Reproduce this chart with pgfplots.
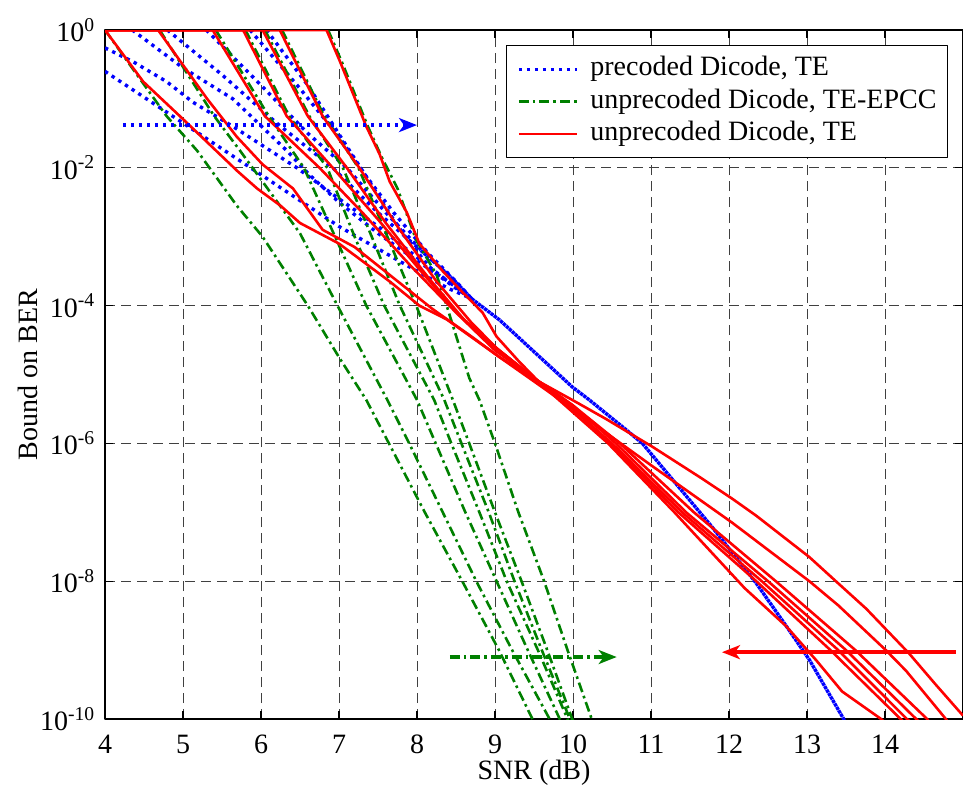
\documentclass[border=0pt]{standalone}
\usepackage{fontspec}
\setmainfont{Liberation Serif}
\usepackage{pgfplots}
\pgfplotsset{compat=1.18}
\usetikzlibrary{arrows.meta}

\definecolor{mblue}{rgb}{0,0,1}
\definecolor{mgreen}{rgb}{0,0.5,0}
\definecolor{mred}{rgb}{1,0,0}

\pgfplotsset{
  bl/.style={color=mblue, line width=1.7pt, dash pattern=on 1.7pt off 2.3pt},
  gr/.style={color=mgreen, line width=1.3pt, dash pattern=on 5pt off 2pt on 1.3pt off 2pt},
  rd/.style={color=mred, line width=1.3pt},
}

\begin{document}
\fontsize{14}{16.8}\selectfont
\begin{tikzpicture}
\begin{axis}[
  scale only axis, width=429pt, height=344.5pt,
  xmin=4, xmax=15, ymode=log, ymin=1e-10, ymax=1,
  xtick={4,5,...,14},
  ytick={1e-10,1e-8,1e-6,1e-4,1e-2,1},
  yticklabels={10\textsuperscript{-10},10\textsuperscript{-8},10\textsuperscript{-6},10\textsuperscript{-4},10\textsuperscript{-2},10\textsuperscript{0}},
  yminorticks=false,
  grid=major,
  major grid style={black!75, line width=0.4pt, dash pattern=on 5pt off 3pt},
  tick align=inside, major tick length=4pt,
  axis line style={line width=0.7pt},
  every tick/.style={black, line width=0.6pt},
  /pgf/number format/assume math mode=true,
  ticklabel style={font=\fontsize{14}{16}\selectfont},
  xticklabel style={yshift=-3pt},
  xlabel={SNR (dB)}, ylabel={Bound on BER},
  label style={font=\fontsize{14}{16}\selectfont},
  xlabel style={at={(axis description cs:0.5,-0.0784)}, anchor=center},
  ylabel style={at={(axis description cs:-0.0897,0.5)}, anchor=center},
  line join=round,
  legend cell align=left,
  legend image code/.code={\draw[#1] (0pt,0pt) -- (29pt,0pt);},
  legend style={at={(1,1)}, anchor=north east, xshift=-7.5pt, yshift=-7.5pt,
    font=\fontsize{14}{16}\selectfont, draw=black, line width=0.6pt,
    inner xsep=5.5pt, inner ysep=4.5pt, row sep=1.75pt, column sep=6pt,
    nodes={inner sep=0pt, text height=10.5pt, text depth=4pt}},
]
\addlegendimage{bl, line width=1.5pt}\addlegendentry{precoded Dicode, TE}
\addlegendimage{gr}\addlegendentry{unprecoded Dicode, TE-EPCC}
\addlegendimage{rd}\addlegendentry{unprecoded Dicode, TE}

% precoded Dicode, TE
\addplot[bl, forget plot] coordinates {(4,2.51e-1) (5,4.47e-2) (6,7.94e-3) (7,1.41e-3) (8.0,3.16e-4) (8.4,1.78e-4) (8.7,1.26e-4)};
\addplot[bl, forget plot] coordinates {(4,5.5e-1) (4.36,3.47e-1) (4.79,1.78e-1) (5.13,8.91e-2) (5.64,3.98e-2) (6.46,1e-2) (7.0,3.55e-3) (7.5,1.41e-3) (8.0,5.01e-4) (8.4,2.24e-4) (8.7,1.26e-4)};
\addplot[bl, forget plot] coordinates {(4.35,1) (5.0,2.82e-1) (5.64,1e-1) (6.33,1.78e-2) (6.62,7.94e-3) (7.0,3.16e-3) (7.5,1.12e-3) (8.0,4.47e-4) (8.4,2.24e-4) (8.7,1.26e-4)};
\addplot[bl, forget plot] coordinates {(4.8,1) (5.5,2.24e-1) (6.2,4.47e-2) (6.92,1e-2) (7.5,2.24e-3) (8.0,7.08e-4) (8.4,2.82e-4) (8.7,1.26e-4)};
\addplot[bl, forget plot] coordinates {(5.3,1) (6.0,1.58e-1) (6.6,3.16e-2) (7.1,1e-2) (7.6,2.24e-3) (8.1,5.62e-4) (8.45,2.51e-4) (8.7,1.26e-4)};
\addplot[bl, forget plot] coordinates {(5.86,1) (6.5,1.41e-1) (7.0,2.82e-2) (7.3,8.91e-3) (7.7,2.24e-3) (8.15,5.62e-4) (8.5,2.24e-4) (8.7,1.26e-4)};
\addplot[bl, forget plot] coordinates {(6.07,1) (6.6,1.58e-1) (7.05,2.51e-2) (7.39,6.31e-3) (7.61,2.51e-3) (7.85,1e-3) (8.2,3.16e-4) (8.5,1.78e-4) (8.7,1.26e-4)};
% common tail, drawn twice with shifted dots as the overlapping curves are
\addplot[bl, forget plot] coordinates {(8.7,1.26e-4) (9.06,6.17e-5) (9.99,6.61e-6) (10.21,4.27e-6) (10.68,1.58e-6) (10.89,1e-6) (11.78,6.17e-8) (12.35,9.33e-9) (12.77,1.95e-9) (13.03,7.24e-10) (13.47,1e-10) (13.5,7.94e-11)};
\addplot[bl, forget plot, dash phase=2pt] coordinates {(8.7,1.26e-4) (9.06,6.17e-5) (9.99,6.61e-6) (10.21,4.27e-6) (10.68,1.58e-6) (10.89,1e-6) (11.78,6.17e-8) (12.35,9.33e-9) (12.77,1.95e-9) (13.03,7.24e-10) (13.47,1e-10) (13.5,7.94e-11)};

% unprecoded Dicode, TE-EPCC
\addplot[gr, forget plot] coordinates {(4,1) (4.79,5.62e-2) (5.18,1.78e-2) (5.69,2.82e-3) (6.02,1e-3) (6.6,1e-4) (7.0,1.78e-5) (7.35,4.27e-6) (7.64,1e-6) (8.1,1e-7) (8.58,1e-8) (9.05,1e-9) (9.48,1e-10) (9.52,7.94e-11)};
\addplot[gr, forget plot] coordinates {(4.7,1) (5.4,5.62e-2) (5.73,1.78e-2) (6.02,6.31e-3) (6.5,1.12e-3) (6.98,1e-4) (7.62,4.27e-6) (7.9,1e-6) (8.33,1e-7) (8.76,1e-8) (9.22,1e-9) (9.7,1e-10) (9.75,7.94e-11)};
\addplot[gr, forget plot] coordinates {(5.42,1) (6.1,5.62e-2) (6.55,1e-2) (6.95,1e-3) (7.35,1e-4) (8.0,4.27e-6) (8.24,1e-6) (8.62,1e-7) (9.02,1e-8) (9.42,1e-9) (9.83,1e-10) (9.87,7.94e-11)};
\addplot[gr, forget plot] coordinates {(5.8,1) (6.36,5.62e-2) (6.85,1e-2) (7.2,1e-3) (7.58,1e-4) (8.22,4.27e-6) (8.44,1e-6) (8.8,1e-7) (9.15,1e-8) (9.55,1e-9) (9.93,1e-10) (9.97,7.94e-11)};
\addplot[gr, forget plot] coordinates {(6.05,1) (6.62,5.62e-2) (7.05,1e-2) (7.42,1e-3) (7.78,1e-4) (8.35,4.27e-6) (8.57,1e-6) (8.92,1e-7) (9.25,1e-8) (9.6,1e-9) (9.96,1e-10) (10.0,7.94e-11)};
\addplot[gr, forget plot] coordinates {(6.27,1) (6.81,5.62e-2) (7.25,1e-2) (7.62,1e-3) (7.99,1e-4) (8.46,4.27e-6) (8.67,1e-6) (9.0,1e-7) (9.34,1e-8) (9.67,1e-9) (9.99,1e-10) (10.03,7.94e-11)};
\addplot[gr, forget plot] coordinates {(6.86,1) (7.05,3.16e-1) (7.37,3.98e-2) (7.55,1.41e-2) (7.75,5.01e-3) (7.99,8.91e-4) (8.25,2.82e-4) (8.38,1e-4) (8.67,8.91e-6) (8.8,4.27e-6) (9.0,1e-6) (9.3,1e-7) (9.63,1e-8) (9.93,1e-9) (10.24,1e-10) (10.28,7.94e-11)};

% unprecoded Dicode, TE
\addplot[rd, forget plot] coordinates {(4,1) (4.49,1.78e-1) (4.96,5.62e-2) (5.7,8.91e-3) (5.95,5.01e-3) (6.25,2.82e-3) (6.5,1.58e-3) (7.0,7.94e-4) (7.65,2.24e-4) (8.03,1e-4) (8.38,6.31e-5) (9.06,1.78e-5) (9.48,8.91e-6) (10.04,3.98e-6) (10.43,2.24e-6) (11.02,8.91e-7) (11.64,3.16e-7) (12.04,1.58e-7) (12.35,8.91e-8) (13.03,2.24e-8) (13.37,1e-8) (13.76,3.98e-9) (14.31,8.91e-10) (14.65,3.16e-10) (15,1.12e-10)};
\addplot[rd, forget plot] coordinates {(4,1) (4.68,1) (5.31,1e-1) (5.69,2.82e-2) (6.02,1.12e-2) (6.41,5.01e-3) (6.79,1.26e-3) (7.2,7.08e-4) (7.7,2.51e-4) (8.2,8.91e-5) (8.7,3.55e-5) (9.06,1.78e-5) (9.5,7.94e-6) (10.0,3.16e-6) (10.98,5.01e-7) (12.04,7.08e-8) (13.03,1e-8) (13.4,4.47e-9) (14.01,1e-9) (14.27,5.01e-10) (14.78,1e-10) (14.9,6.31e-11)};
\addplot[rd, forget plot] coordinates {(4,1) (5.38,1) (6.05,5.62e-2) (6.75,1e-2) (7.3,2.24e-3) (7.9,3.98e-4) (8.5,7.94e-5) (9.0,2.24e-5) (9.5,8.91e-6) (10.0,3.55e-6) (10.6,1e-6) (11.55,1e-7) (12.6,1e-8) (13.62,1e-9) (14.54,1e-10) (14.6,7.94e-11)};
\addplot[rd, forget plot] coordinates {(4,1) (5.77,1) (6.33,5.62e-2) (6.92,1e-2) (7.5,1.78e-3) (8.05,3.16e-4) (8.55,7.08e-5) (9.0,2.51e-5) (9.5,8.91e-6) (10.0,3.55e-6) (10.55,1e-6) (11.45,1e-7) (12.5,1e-8) (13.5,1e-9) (14.4,1e-10) (14.5,7.94e-11)};
\addplot[rd, forget plot] coordinates {(4,1) (6.02,1) (6.6,5.62e-2) (7.1,1e-2) (7.6,1.58e-3) (8.15,2.51e-4) (8.6,6.31e-5) (9.0,2.51e-5) (9.5,8.91e-6) (10.0,3.16e-6) (10.5,1e-6) (11.4,1e-7) (12.42,1e-8) (13.4,1e-9) (14.28,1e-10) (14.4,7.94e-11)};
\addplot[rd, forget plot] coordinates {(4,1) (6.24,1) (6.79,5.62e-2) (7.26,1e-2) (7.75,1.41e-3) (8.25,2.24e-4) (8.7,5.62e-5) (9.05,2.24e-5) (9.5,8.91e-6) (10.0,3.16e-6) (10.48,1e-6) (11.35,1e-7) (12.35,1e-8) (13.3,1e-9) (14.2,1e-10) (14.3,7.94e-11)};
\addplot[rd, forget plot] coordinates {(4,1) (6.84,1) (7.01,3.55e-1) (7.35,3.98e-2) (7.52,1.58e-2) (7.65,6.31e-3) (7.87,2.24e-3) (8.03,7.94e-4) (8.33,3.16e-4) (8.58,1.58e-4) (8.84,7.94e-5) (9.02,3.55e-5) (9.3,1.58e-5) (9.6,7.08e-6) (10.0,2.82e-6) (10.45,1e-6) (11.3,1e-7) (12.2,7.94e-9) (12.73,2.24e-9) (13.12,7.08e-10) (13.45,2.51e-10) (13.95,1e-10) (14.05,7.94e-11)};

% direction arrows
\addplot[bl, forget plot, line width=1.6pt, dash pattern=on 1.6pt off 2.4pt, -{Stealth[length=9pt, width=7pt, inset=2.5pt]}] coordinates {(4.23,4.17e-2) (8.0,4.17e-2)};
\addplot[gr, forget plot, line width=1.6pt, -{Stealth[length=9pt, width=7pt, inset=2.5pt]}] coordinates {(8.42,7.94e-10) (10.56,7.94e-10)};
\addplot[rd, forget plot, line width=1.7pt, -{Stealth[length=9pt, width=7pt, inset=2.5pt]}] coordinates {(14.91,9.33e-10) (11.91,9.33e-10)};
\end{axis}
\pgfresetboundingbox
\path[use as bounding box] ([xshift=-52.5pt,yshift=-34pt]current axis.south west) rectangle ([yshift=15pt]current axis.north east);
\end{tikzpicture}
\end{document}
